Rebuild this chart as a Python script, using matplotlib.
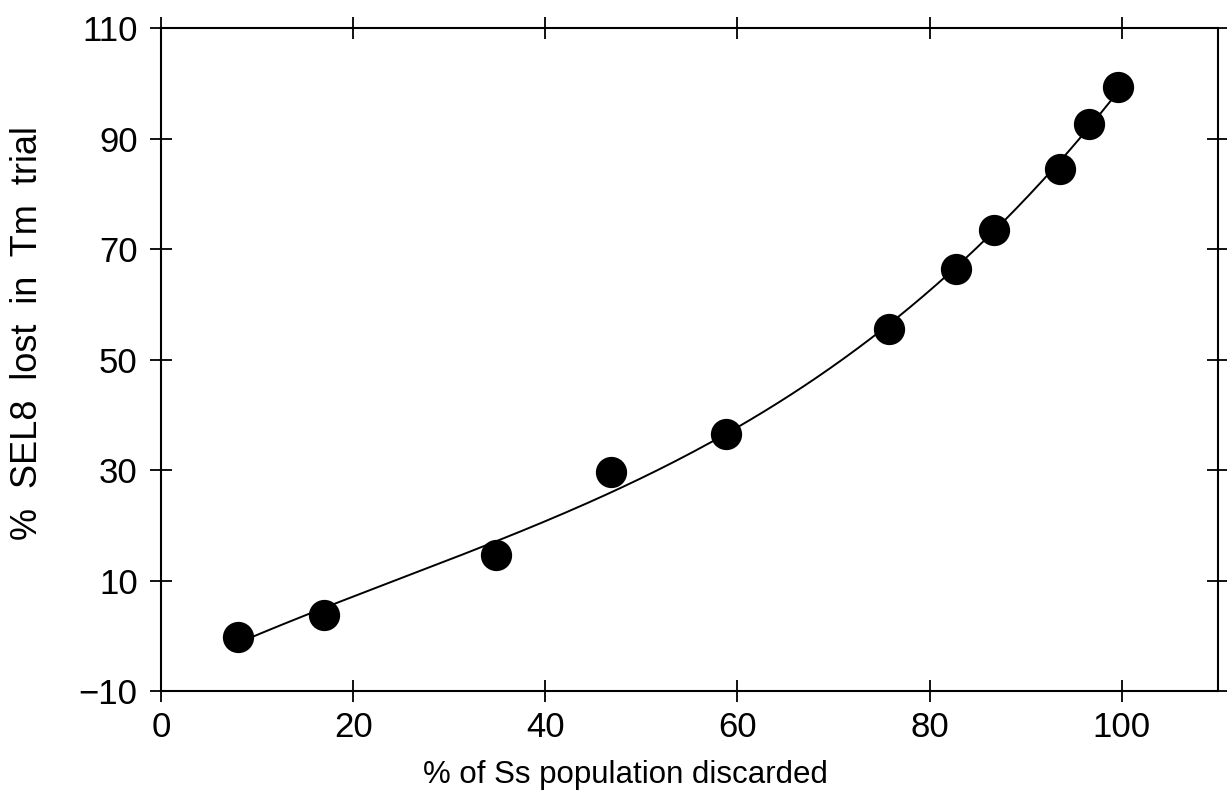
import numpy as np
import matplotlib
matplotlib.use("Agg")
import matplotlib.pyplot as plt

# Data
x_pct_discarded = [8.0, 17.0, 34.9, 46.8, 58.8, 75.8, 82.7, 86.7, 93.6, 96.6, 99.6]
y_pct_lost = [-0.2, 3.8, 14.6, 29.7, 36.5, 55.5, 66.4, 73.4, 84.4, 92.7, 99.4]

x_ticks = [0, 20, 40, 60, 80, 100]
y_ticks = [-10, 10, 30, 50, 70, 90, 110]
x_label = "% of Ss population discarded"
y_label = "%  SEL8  lost  in  Tm  trial"

plt.rcParams['font.family'] = ['Liberation Sans', 'DejaVu Sans']

fig = plt.figure(figsize=(12.27, 7.94), dpi=100)
ax = fig.add_axes([0.1312, 0.1297, 0.8614, 0.835])

# fitted trend curve through the data
coef = np.polyfit(x_pct_discarded, y_pct_lost, 3)
xf = np.linspace(min(x_pct_discarded), max(x_pct_discarded), 200)
ax.plot(xf, np.polyval(coef, xf), color='black', lw=1.4, zorder=2)

ax.plot(x_pct_discarded, y_pct_lost, 'o', color='black', ms=21.5, zorder=3)

ax.set_xlim(0, 110)
ax.set_ylim(-10, 110)
ax.set_xticks(x_ticks)
ax.set_yticks(y_ticks)
ax.set_yticklabels([str(v).replace('-', '\u2212') for v in y_ticks])

for s in ax.spines.values():
    s.set_linewidth(1.5)

ax.tick_params(direction='inout', length=16.5, width=1.3, labelsize=25,
               top=True, right=True, colors='black')
ax.tick_params(axis='x', pad=6)
ax.tick_params(axis='y', pad=8.5)

ax.set_xlabel(x_label, fontsize=22.5, ha='center', va='center')
ax.xaxis.set_label_coords(0.439, -0.127)
ax.set_ylabel(y_label, fontsize=26, ha='center', va='center')
ax.yaxis.set_label_coords(-0.126, 0.540)

fig.savefig("out.png", dpi=100)
